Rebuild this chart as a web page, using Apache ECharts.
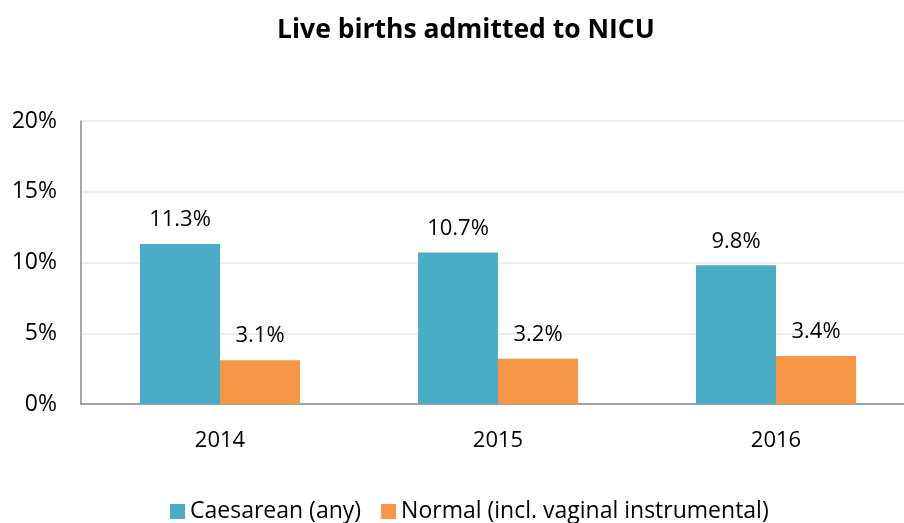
<!DOCTYPE html>
<html>
<head>
<meta charset="utf-8">
<script src="https://cdn.jsdelivr.net/npm/echarts@6/dist/echarts.min.js"></script>
<style>
  html, body { margin: 0; padding: 0; background: #fff; }
  #chart { width: 904px; height: 523px; }
</style>
</head>
<body>
<div id="chart"></div>
<script>
const years = ['2014', '2015', '2016']
const caesarean = [11.3, 10.7, 9.8]
const normal = [3.1, 3.2, 3.4]
const yTicks = [0, 5, 10, 15, 20]

const font = 'Open Sans, Liberation Sans, sans-serif'
const chart = echarts.init(document.getElementById('chart'))

const labelStyle = {
  show: true,
  position: 'top',
  distance: 13,
  formatter: p => p.value.toFixed(1) + '%',
  color: '#000',
  fontSize: 22,
  fontFamily: font
}

chart.setOption({
  animation: false,
  title: {
    text: 'Live births admitted to NICU',
    left: 272,
    top: 12,
    textStyle: { fontSize: 26.5, fontWeight: 'bold', color: '#000', fontFamily: font }
  },
  legend: {
    left: 165,
    top: 495,
    itemWidth: 15,
    itemHeight: 15,
    itemGap: 20,
    icon: 'rect',
    textStyle: { fontSize: 23, color: '#000', fontFamily: font }
  },
  // plot runs past the right edge of the window, as in the original
  grid: { left: 81, width: 834, top: 121, bottom: 119, outerBoundsMode: 'none' },
  xAxis: {
    type: 'category',
    data: years,
    axisLine: { lineStyle: { color: '#888', width: 1.5 } },
    axisTick: { show: false },
    axisLabel: { fontSize: 22, color: '#000', margin: 26, fontFamily: font }
  },
  yAxis: {
    type: 'value',
    min: yTicks[0],
    max: yTicks[yTicks.length - 1],
    interval: 5,
    axisLine: { show: true, lineStyle: { color: '#888', width: 1.5 } },
    axisTick: { show: false },
    splitLine: { lineStyle: { color: '#e8e8e8', width: 1.5 } },
    axisLabel: { formatter: '{value}%', fontSize: 23, color: '#000', margin: 24, fontFamily: font }
  },
  series: [
    {
      name: 'Caesarean (any)',
      type: 'bar',
      data: caesarean,
      barWidth: 80,
      barGap: '0%',
      itemStyle: { color: '#4BACC6' },
      label: labelStyle
    },
    {
      name: 'Normal (incl. vaginal instrumental)',
      type: 'bar',
      data: normal,
      barWidth: 80,
      itemStyle: { color: '#F79646' },
      label: labelStyle
    }
  ]
})
</script>
</body>
</html>
